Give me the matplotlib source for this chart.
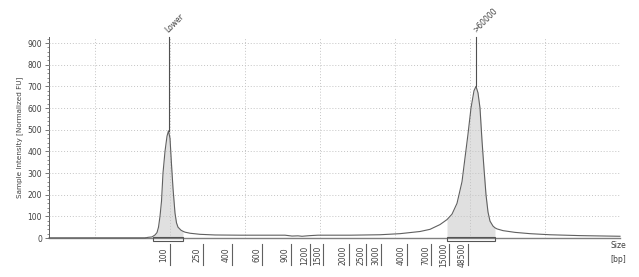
import numpy as np
import matplotlib
matplotlib.use("Agg")
import matplotlib.pyplot as plt
from matplotlib.transforms import blended_transform_factory
from matplotlib.patches import Rectangle

# ---- data (x = migration position along the run, y = normalized FU) ----
curve_x = [49, 145, 148, 152, 153, 155, 157, 158.5, 160, 161.5, 163, 165, 167, 168.5,
           170, 171.5, 173, 175, 176.5, 178, 181, 183, 185, 190, 200, 215, 240, 285,
           292, 298, 302, 310, 318, 350, 380, 400, 420, 430, 440, 447, 452, 457, 462,
           465, 468, 471, 474, 476, 478, 480, 482, 484, 486, 488, 490, 493, 495, 497,
           503, 515, 530, 550, 580, 620]
curve_y = [0, 0, 3, 5, 8, 14, 25, 50, 100, 170, 300, 400, 470, 495,
           460, 340, 230, 115, 70, 50, 36, 31, 27, 22, 17, 14, 13, 13,
           9, 10, 8, 11, 13, 13, 15, 20, 30, 40, 62, 85, 110, 160, 260,
           370, 480, 600, 680, 700, 670, 600, 450, 320, 200, 120, 78, 55, 47, 42,
           34, 26, 20, 15, 11, 8]

peak_regions = [(153, 183), (447, 495)]
peak_pos = [168.5, 476]
peak_names = ["Lower", ">60000"]

size_labels = ["100", "250", "400", "600", "900", "1200", "1500", "2000", "2500",
               "3000", "4000", "7000", "15000", "48500"]
size_pos = [169.5, 203, 232, 262, 291, 310, 323, 349, 366, 381, 407, 431, 449, 468]

grid_x = [95, 170, 245, 320, 395, 470, 545, 620]
y_ticks = [0, 100, 200, 300, 400, 500, 600, 700, 800, 900]

# ---- figure ----
W, H = 639, 277
fig = plt.figure(figsize=(W / 100, H / 100), dpi=100)
plt.rcParams['font.family'] = ['DejaVu Sans']
x0, x1 = 49, 620
ytop_px, ybot_px = 37, 238
ax = fig.add_axes([x0 / W, 1 - ybot_px / H, (x1 - x0) / W, (ybot_px - ytop_px) / H])
ax.set_xlim(x0, x1)
ax.set_ylim(0, 928)

fs = 5.5
txt_col = "#404040"
ax.set_yticks(y_ticks)
ax.set_yticks(np.arange(0, 928, 20), minor=True)
ax.tick_params(axis='y', which='major', length=3, width=0.6, color="#606060",
               labelsize=fs, labelcolor=txt_col, pad=2)
ax.tick_params(axis='y', which='minor', length=1.5, width=0.5, color="#606060")
ax.set_ylabel("Sample Intensity [Normalized FU]", fontsize=fs - 0.3, color=txt_col, labelpad=3)

ax.set_xticks([])
ax.set_xticks(grid_x, minor=True)
ax.tick_params(axis='x', which='both', length=0, labelbottom=False)

ax.grid(True, axis='y', which='major', linestyle=(0, (1, 2)), color="#c4c4c4", linewidth=0.7)
ax.grid(True, axis='x', which='minor', linestyle=(0, (1, 2)), color="#c4c4c4", linewidth=0.7)
ax.set_axisbelow(False)

for s in ['top', 'right']:
    ax.spines[s].set_visible(False)
ax.spines['left'].set_color("#606060")
ax.spines['left'].set_linewidth(0.7)
ax.spines['bottom'].set_color("#808080")
ax.spines['bottom'].set_linewidth(1.0)

cx = np.array(curve_x, dtype=float)
cy = np.array(curve_y, dtype=float)

for (a, b) in peak_regions:
    m = (cx >= a) & (cx <= b)
    ax.fill_between(cx[m], 0, cy[m], color="#e0e0e0", zorder=2, linewidth=0)
    ax.add_patch(Rectangle((a, -14), b - a, 17, fill=False, edgecolor="#555555",
                           linewidth=0.8, clip_on=False, zorder=4))

ax.plot(cx, cy, color="#606060", linewidth=0.8, zorder=3, clip_on=False)
m0 = cx <= 147
ax.plot(cx[m0], cy[m0], color="#202020", linewidth=1.0, zorder=3)

# peak markers
for p, name in zip(peak_pos, peak_names):
    top = np.interp(p, cx, cy)
    ax.plot([p, p], [top, 928], color="#505050", linewidth=0.8, zorder=4, clip_on=False)
    ax.text(p - 2, 955, name, rotation=45, rotation_mode='anchor', ha='left', va='center',
            fontsize=fs, color=txt_col)

# size axis labels with separator lines
tr = blended_transform_factory(ax.transData, fig.transFigure)
for p, lab in zip(size_pos, size_labels):
    ax.text(p - 5.5, 1 - 255 / H, lab, rotation=90, ha='center', va='center',
            fontsize=fs, color=txt_col, transform=tr)
    ax.plot([p, p], [1 - 244 / H, 1 - 265 / H], color="#606060", linewidth=0.8,
            transform=tr, clip_on=False)

fig.text(618 / W, 1 - 246 / H, "Size", fontsize=fs, color=txt_col, ha='center', va='center')
fig.text(618 / W, 1 - 259 / H, "[bp]", fontsize=fs, color=txt_col, ha='center', va='center')

fig.savefig("out.png", dpi=100)
